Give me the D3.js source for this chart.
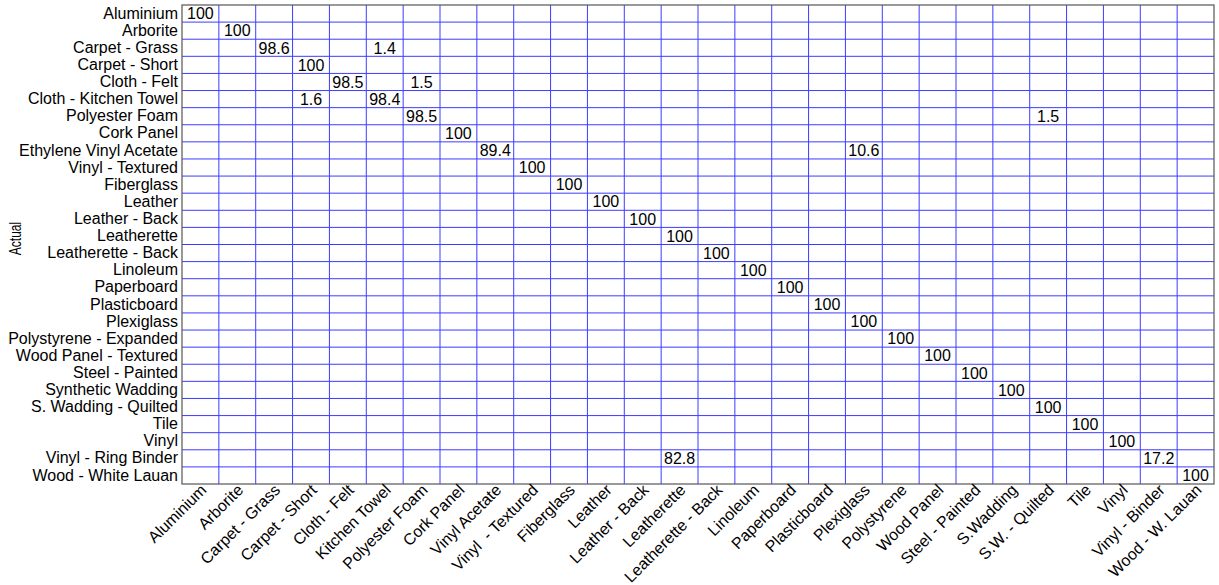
<!DOCTYPE html>
<html>
<head>
<meta charset="utf-8">
<script src="https://cdn.jsdelivr.net/npm/d3@7/dist/d3.min.js"></script>
<style>
  html, body { margin: 0; padding: 0; background: #fff; }
  svg text { font-family: Arial, "Liberation Sans", sans-serif; fill: #000; }
</style>
</head>
<body>
<svg id="chart" width="1219" height="585"></svg>
<script>
// Row labels (actual class)
const actualLabels = [
  "Aluminium", "Arborite", "Carpet - Grass", "Carpet - Short", "Cloth - Felt",
  "Cloth - Kitchen Towel", "Polyester Foam", "Cork Panel", "Ethylene Vinyl Acetate",
  "Vinyl - Textured", "Fiberglass", "Leather", "Leather - Back", "Leatherette",
  "Leatherette - Back", "Linoleum", "Paperboard", "Plasticboard", "Plexiglass",
  "Polystyrene - Expanded", "Wood Panel - Textured", "Steel - Painted",
  "Synthetic Wadding", "S. Wadding - Quilted", "Tile", "Vinyl",
  "Vinyl - Ring Binder", "Wood - White Lauan"
];

// Column labels (predicted class)
const predictedLabels = [
  "Aluminium", "Arborite", "Carpet - Grass", "Carpet - Short", "Cloth - Felt",
  "Kitchen Towel", "Polyester Foam", "Cork Panel", "Vinyl Acetate",
  "Vinyl  - Textured", "Fiberglass", "Leather", "Leather - Back", "Leatherette",
  "Leatherette - Back", "Linoleum", "Paperboard", "Plasticboard", "Plexiglass",
  "Polystyrene", "Wood Panel", "Steel - Painted", "S.Wadding", "S.W. - Quilted",
  "Tile", "Vinyl", "Vinyl - Binder", "Wood - W. Lauan"
];

// Non-empty cells: actual row index, predicted column index, percentage
const cellRow = [0, 1, 2, 2, 3, 4, 4, 5, 5, 6, 6, 7, 8, 8, 9, 10, 11, 12, 13, 14,
                 15, 16, 17, 18, 19, 20, 21, 22, 23, 24, 25, 26, 26, 27];
const cellCol = [0, 1, 2, 5, 3, 4, 6, 3, 5, 6, 23, 7, 8, 18, 9, 10, 11, 12, 13, 14,
                 15, 16, 17, 18, 19, 20, 21, 22, 23, 24, 25, 13, 26, 27];
const cellValue = [100, 100, 98.6, 1.4, 100, 98.5, 1.5, 1.6, 98.4, 98.5, 1.5, 100,
                   89.4, 10.6, 100, 100, 100, 100, 100, 100, 100, 100, 100, 100,
                   100, 100, 100, 100, 100, 100, 100, 82.8, 17.2, 100];

const yTitle = "Actual";

const cells = cellValue.map((v, i) => ({ r: cellRow[i], c: cellCol[i], v }));

const margin = { left: 182, top: 5, right: 5, bottom: 101 };
const W = 1219, H = 585;
const svg = d3.select("#chart");

const x = d3.scaleBand()
  .domain(d3.range(predictedLabels.length))
  .range([margin.left, W - margin.right]);
const y = d3.scaleBand()
  .domain(d3.range(actualLabels.length))
  .range([margin.top, H - margin.bottom]);

const gridColor = "#3c3cff";

// Grid lines between cells
const grid = svg.append("g");
grid.selectAll("line.v")
  .data(d3.range(1, predictedLabels.length))
  .join("line")
  .attr("x1", d => x(d)).attr("x2", d => x(d))
  .attr("y1", y.range()[0]).attr("y2", y.range()[1])
  .attr("stroke", gridColor).attr("stroke-width", 1);
grid.selectAll("line.h")
  .data(d3.range(1, actualLabels.length))
  .join("line")
  .attr("y1", d => y(d)).attr("y2", d => y(d))
  .attr("x1", x.range()[0]).attr("x2", x.range()[1])
  .attr("stroke", gridColor).attr("stroke-width", 1);

// Plot frame
svg.append("rect")
  .attr("x", x.range()[0]).attr("y", y.range()[0])
  .attr("width", x.range()[1] - x.range()[0])
  .attr("height", y.range()[1] - y.range()[0])
  .attr("fill", "none").attr("stroke", "#555").attr("stroke-width", 1.2);

// Cell values
svg.append("g").selectAll("text")
  .data(cells)
  .join("text")
  .attr("x", d => x(d.c) + x.bandwidth() / 2)
  .attr("y", d => y(d.r) + y.bandwidth() / 2)
  .attr("dy", "0.36em")
  .attr("text-anchor", "middle")
  .attr("font-size", 16)
  .text(d => d.v);

// Row axis
const yAxis = svg.append("g")
  .attr("transform", `translate(${margin.left},0)`)
  .call(d3.axisLeft(y).tickSize(0).tickPadding(4).tickFormat(i => actualLabels[i]));
yAxis.select(".domain").remove();
yAxis.selectAll("text").attr("font-size", 16).attr("fill", "#000");

// Column axis, labels rotated
const xAxis = svg.append("g")
  .attr("transform", `translate(0,${H - margin.bottom})`)
  .call(d3.axisBottom(x).tickSize(0).tickFormat(i => predictedLabels[i]));
xAxis.select(".domain").remove();
xAxis.selectAll("text")
  .attr("font-size", 16).attr("fill", "#000")
  .style("white-space", "pre")
  .attr("text-anchor", "end")
  .attr("x", 0).attr("y", 0).attr("dy", 0)
  .attr("transform", "translate(7,7) rotate(-45)");

// Row axis title
svg.append("text")
  .attr("transform", `translate(21,${(y.range()[0] + y.range()[1]) / 2 - 6}) scale(1,0.75) rotate(-90)`)
  .attr("text-anchor", "middle")
  .attr("font-size", 16)
  .text(yTitle);
</script>
</body>
</html>
